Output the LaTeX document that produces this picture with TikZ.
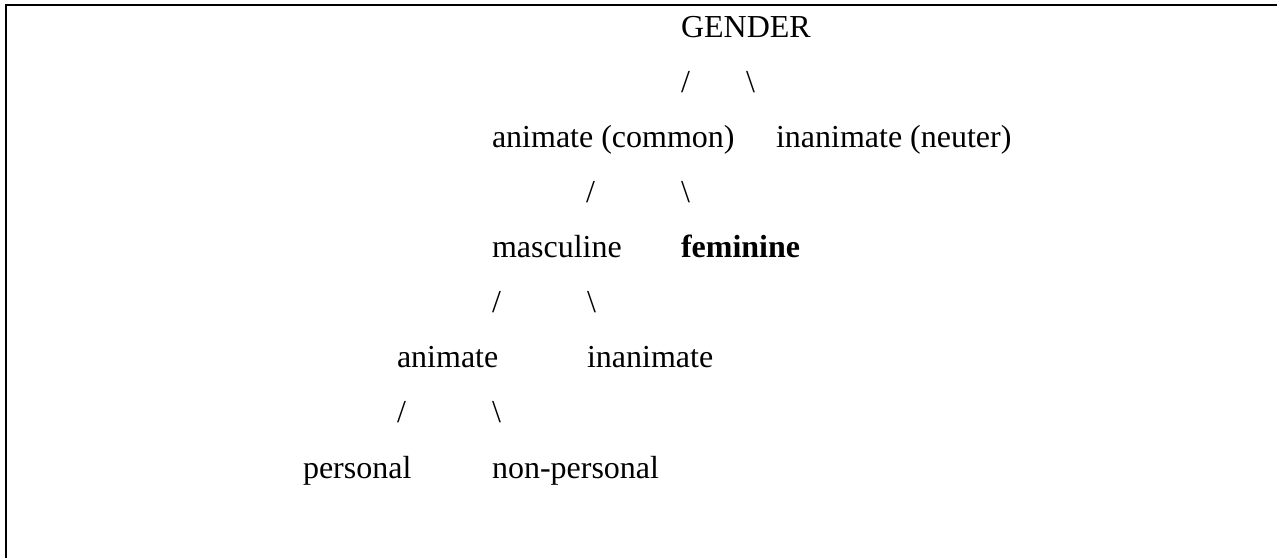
\documentclass[tikz,border=0pt]{standalone}
\usepackage{fontspec}
\setmainfont{Liberation Serif}
\begin{document}
\begin{tikzpicture}[x=0.375pt,y=0.375pt,
  word/.style={anchor=base west,inner sep=0pt,outer sep=0pt,font=\fontsize{12pt}{14pt}\selectfont},
  branch/.style={word},
  frameline/.style={line width=0.75pt,line cap=rect}]
\useasboundingbox (0,0) rectangle (1277,-558);
% frame
\coordinate (fbl) at (6,-558);
\coordinate (ftl) at (6,-5);
\coordinate (ftr) at (1277,-5);
\draw[frameline] (fbl) -- (ftl) -- (ftr);
% level 0
\node[word] (gender) at (681,-37) {GENDER};
\node[branch] (s1l) at (681,-92) {/};
\node[branch] (s1r) at (746,-92) {\textbackslash};
% level 1
\node[word] (animc) at (492,-147) {animate (common)};
\node[word] (inan) at (776,-147) {inanimate (neuter)};
\node[branch] (s2l) at (586,-202) {/};
\node[branch] (s2r) at (681,-202) {\textbackslash};
% level 2
\node[word] (masc) at (492,-257) {masculine};
\node[word] (fem) at (681,-257) {\bfseries feminine};
\node[branch] (s3l) at (492,-312) {/};
\node[branch] (s3r) at (587,-312) {\textbackslash};
% level 3
\node[word] (anim) at (397,-367) {animate};
\node[word] (inanm) at (587,-367) {inanimate};
\node[branch] (s4l) at (397,-422) {/};
\node[branch] (s4r) at (492,-422) {\textbackslash};
% level 4
\node[word] (pers) at (303,-478) {personal};
\node[word] (npers) at (492,-478) {non-personal};
\end{tikzpicture}
\end{document}
